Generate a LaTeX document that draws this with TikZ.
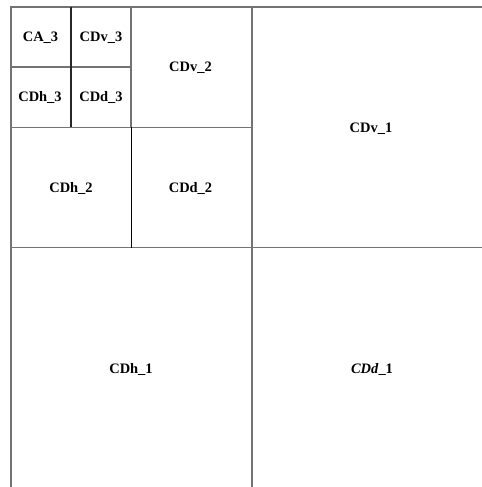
\documentclass[tikz,border=0pt]{standalone}
\usepackage{fontspec}
\setmainfont{Liberation Serif}
\begin{document}
\begin{tikzpicture}[x=1bp,y=-1bp,
  gline/.style={draw=black!55,line width=1.8bp},
  kline/.style={draw=black!85,line width=1.6bp},
  bline/.style={draw=black,line width=0.8bp},
  lbl/.style={font=\fontsize{14.5}{16}\selectfont\bfseries,inner sep=0pt}]
\useasboundingbox[fill=white] (0,0) rectangle (482,487);
% outer and level-1 lines
\draw[gline] (11,487) -- (11,7) -- (482,7);
\draw[gline] (252,7) -- (252,487);
\draw[gline] (11,247.5) -- (482,247.5);
% level-2 lines
\draw[gline] (131,7) -- (131,127.5);
\draw[gline] (11,127.5) -- (252,127.5);
\draw[bline] (131,127.5) -- (131,247.5);
% level-3 lines
\draw[gline] (11,67) -- (131,67);
\draw[kline] (71,7) -- (71,127.5);
% labels
\node[lbl] (ca3) at (40.5,37.5) {CA\_3};
\node[lbl] (cdv3) at (101,37.5) {CDv\_3};
\node[lbl] (cdh3) at (40,97.5) {CDh\_3};
\node[lbl] (cdd3) at (101,97.5) {CDd\_3};
\node[lbl] (cdv2) at (190.5,68) {CDv\_2};
\node[lbl] (cdh2) at (71,188) {CDh\_2};
\node[lbl] (cdd2) at (190.5,188) {CDd\_2};
\node[lbl] (cdv1) at (371,129) {CDv\_1};
\node[lbl] (cdh1) at (131,369) {CDh\_1};
\node[lbl] (cdd1) at (372,369) {\textit{CDd}\_1};
\end{tikzpicture}
\end{document}
